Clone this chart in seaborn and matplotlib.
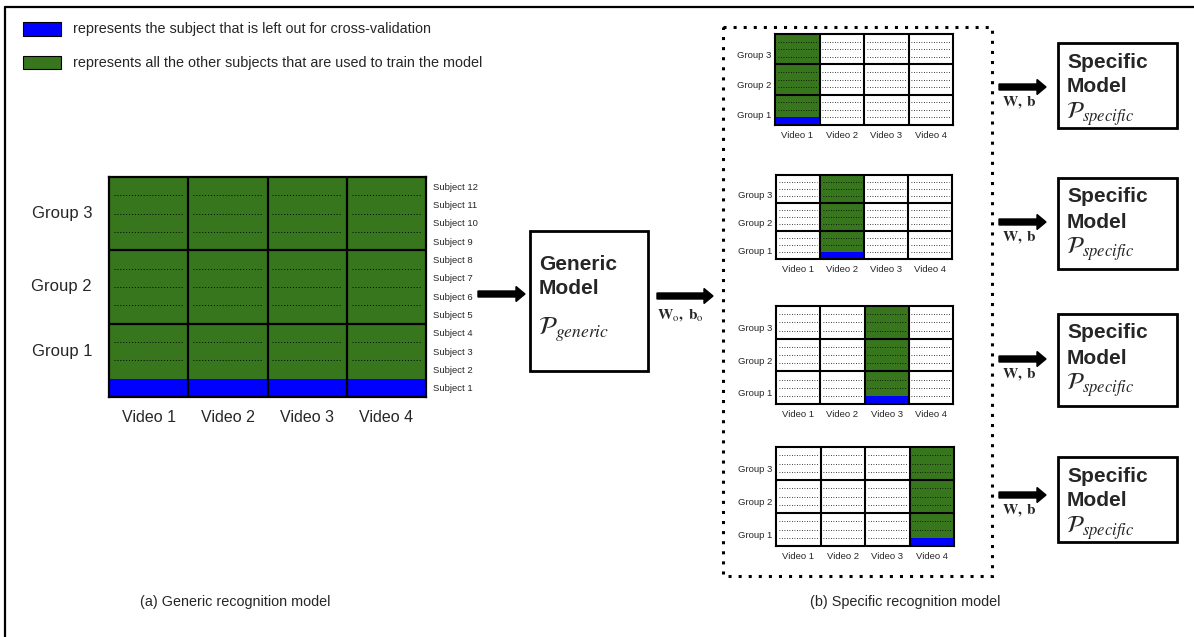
import matplotlib
matplotlib.use("Agg")
import matplotlib.pyplot as plt
from matplotlib.colors import ListedColormap
from matplotlib.patches import Rectangle
import pandas as pd
import seaborn as sns

# ---- data -----------------------------------------------------------------
VIDEOS = ["Video 1", "Video 2", "Video 3", "Video 4"]
GROUPS = ["Group 1", "Group 2", "Group 3"]
SUBJECTS = [f"Subject {i}" for i in range(1, 13)]
SUBJECTS_PER_GROUP = 4
LEFT_OUT = "Subject 1"
SPECIFIC_VIDEOS = ["Video 1", "Video 2", "Video 3", "Video 4"]  # one specific model per video

LEGEND_TEXT = ["represents the subject that is left out for cross-validation",
               "represents all the other subjects that are used to train the model"]
CAPTIONS = ["(a) Generic recognition model", "(b) Specific recognition model"]
GENERIC_LABEL = ["Generic", "Model", r"$\mathcal{P}_{generic}$"]
SPECIFIC_LABEL = ["Specific", "Model", r"$\mathcal{P}_{specific}$"]
GENERIC_PARAMS = r"$\mathbf{W}_{\mathrm{o}}\mathbf{,\ b}_{\mathrm{o}}$"
SPECIFIC_PARAMS = r"$\mathbf{W,\ b}$"

BLUE, GREEN = "#0000ff", "#38761d"
CELL_COLORS = [BLUE, GREEN, "white"]  # 0 left out, 1 train, 2 not used

# ---- layout (pixels) -------------------------------------------------------
W, H = 1194, 637
BIG_GRID = (109, 177, 426, 397)
SMALL_GRIDS = [(775, 34, 953, 125), (776, 175, 952, 259),
               (776, 306, 953, 404), (776, 447, 954, 546)]
SPEC_BOXES = [(1058, 43, 1177, 128), (1058, 178, 1177, 269),
              (1058, 314, 1177, 406), (1058, 457, 1177, 542)]
SPEC_ARROW_Y = [87, 222, 359, 495]

sns.set_theme(style="white")
plt.rcParams["font.family"] = ["Liberation Sans", "DejaVu Sans"]
plt.rcParams["mathtext.fontset"] = "stix"


def px_axes(fig, x0, y0, x1, y1):
    return fig.add_axes([x0 / W, 1 - y1 / H, (x1 - x0) / W, (y1 - y0) / H])


def fold_frame(active_videos):
    rows = []
    for s in SUBJECTS[::-1]:
        rows.append([(0 if s == LEFT_OUT else 1) if v in active_videos else 2 for v in VIDEOS])
    return pd.DataFrame(rows, index=SUBJECTS[::-1], columns=VIDEOS)


def draw_grid(ax, df, small):
    thick = 1.5 if small else 1.6
    sns.heatmap(df, ax=ax, cmap=ListedColormap(CELL_COLORS), vmin=0, vmax=2, cbar=False,
                xticklabels=True, yticklabels=not small, linewidths=0)
    vals = df.to_numpy()
    n_rows, n_cols = vals.shape
    for r in range(1, n_rows):
        if r % SUBJECTS_PER_GROUP == 0:
            ax.axhline(r, color="black", lw=thick)
            continue
        for c in range(n_cols):
            if vals[r - 1, c] != 0 and vals[r, c] != 0:
                ax.hlines(r, c + 0.06, c + 0.94, colors="black",
                          linestyles=(0, (1, 2)), lw=0.6 if small else 0.7)
    for c in range(1, n_cols):
        ax.axvline(c, color="black", lw=thick)
    for sp in ax.spines.values():
        sp.set_visible(True)
        sp.set_linewidth(thick)
        sp.set_color("black")
    ax.set_xlabel("")
    ax.set_ylabel("")
    ax.tick_params(axis="x", length=0, labelrotation=0,
                   pad=4 if small else 9, labelsize=6.8 if small else 11.5)
    if not small:
        ax.yaxis.tick_right()
        ax.tick_params(axis="y", length=0, labelrotation=0, pad=5, labelsize=6.8)
    # group labels on the left
    for g, name in enumerate(GROUPS):
        members = SUBJECTS[g * SUBJECTS_PER_GROUP:(g + 1) * SUBJECTS_PER_GROUP]
        if small:
            y = n_rows - (g + 0.5) * SUBJECTS_PER_GROUP
            dy = -6
        else:
            train = [s for s in members if s != LEFT_OUT]
            y = sum(n_rows - SUBJECTS.index(s) - 0.5 for s in train) / len(train)
            dy = 0
        ax.annotate(name, xy=(0, y), xycoords=("axes fraction", "data"),
                    xytext=(-4 if small else -17, dy), textcoords="offset pixels",
                    ha="right", va="center", fontsize=6.8 if small else 12)


def arrow(ax, x0, x1, y):
    ax.arrow(x0, y, x1 - x0, 0, width=6, head_width=15, head_length=9,
             length_includes_head=True, fc="black", ec="black")


def model_box(ax, box, lines, offsets, size_p):
    x0, y0, x1, y1 = box
    ax.add_patch(Rectangle((x0, y0), x1 - x0, y1 - y0, fill=True, fc="white",
                           ec="black", lw=2))
    for text, dy in zip(lines[:2], offsets[:2]):
        ax.text(x0 + 9, y0 + dy, text, fontsize=15, fontweight="bold", ha="left", va="center")
    ax.text(x0 + 8, y0 + offsets[2], lines[2], fontsize=size_p, ha="left", va="center")


fig = plt.figure(figsize=(W / 100, H / 100), dpi=100)
main = fig.add_axes([0, 0, 1, 1])
main.set_xlim(0, W)
main.set_ylim(H, 0)
main.axis("off")

# outer frame (top + left)
main.plot([5, W], [7, 7], color="black", lw=1.6)
main.plot([5, 5], [7, H], color="black", lw=1.6)

# legend
for (y0, y1), color, text in zip([(22, 36), (56, 69)], [BLUE, GREEN], LEGEND_TEXT):
    main.add_patch(Rectangle((23, y0), 38, y1 - y0, fc=color, ec="black", lw=0.8))
    main.text(73, (y0 + y1) / 2, text, fontsize=10.4, ha="left", va="center")

# (a) generic model
big = px_axes(fig, *BIG_GRID)
draw_grid(big, fold_frame(VIDEOS), small=False)
arrow(main, 478, 525, 294)
model_box(main, (530, 231, 648, 371), GENERIC_LABEL, (34, 57, 99), 18)
arrow(main, 657, 713, 296)
main.text(657, 316, GENERIC_PARAMS, fontsize=11, ha="left", va="center")

# (b) specific models
main.add_patch(Rectangle((723, 27), 992 - 723, 576 - 27, fill=False, ec="black",
                         lw=2.2, ls=(0, (1, 2.3))))
for video, grid, box, ya in zip(SPECIFIC_VIDEOS, SMALL_GRIDS, SPEC_BOXES, SPEC_ARROW_Y):
    ax = px_axes(fig, *grid)
    draw_grid(ax, fold_frame([video]), small=True)
    arrow(main, 999, 1046, ya)
    main.text(1002, ya + 16, SPECIFIC_PARAMS, fontsize=11, ha="left", va="center")
    model_box(main, box, SPECIFIC_LABEL, (19, 44, 71), 17)

main.text(235, 602, CAPTIONS[0], fontsize=10.4, ha="center", va="center")
main.text(905, 602, CAPTIONS[1], fontsize=10.4, ha="center", va="center")

fig.savefig("out.png", dpi=100)
